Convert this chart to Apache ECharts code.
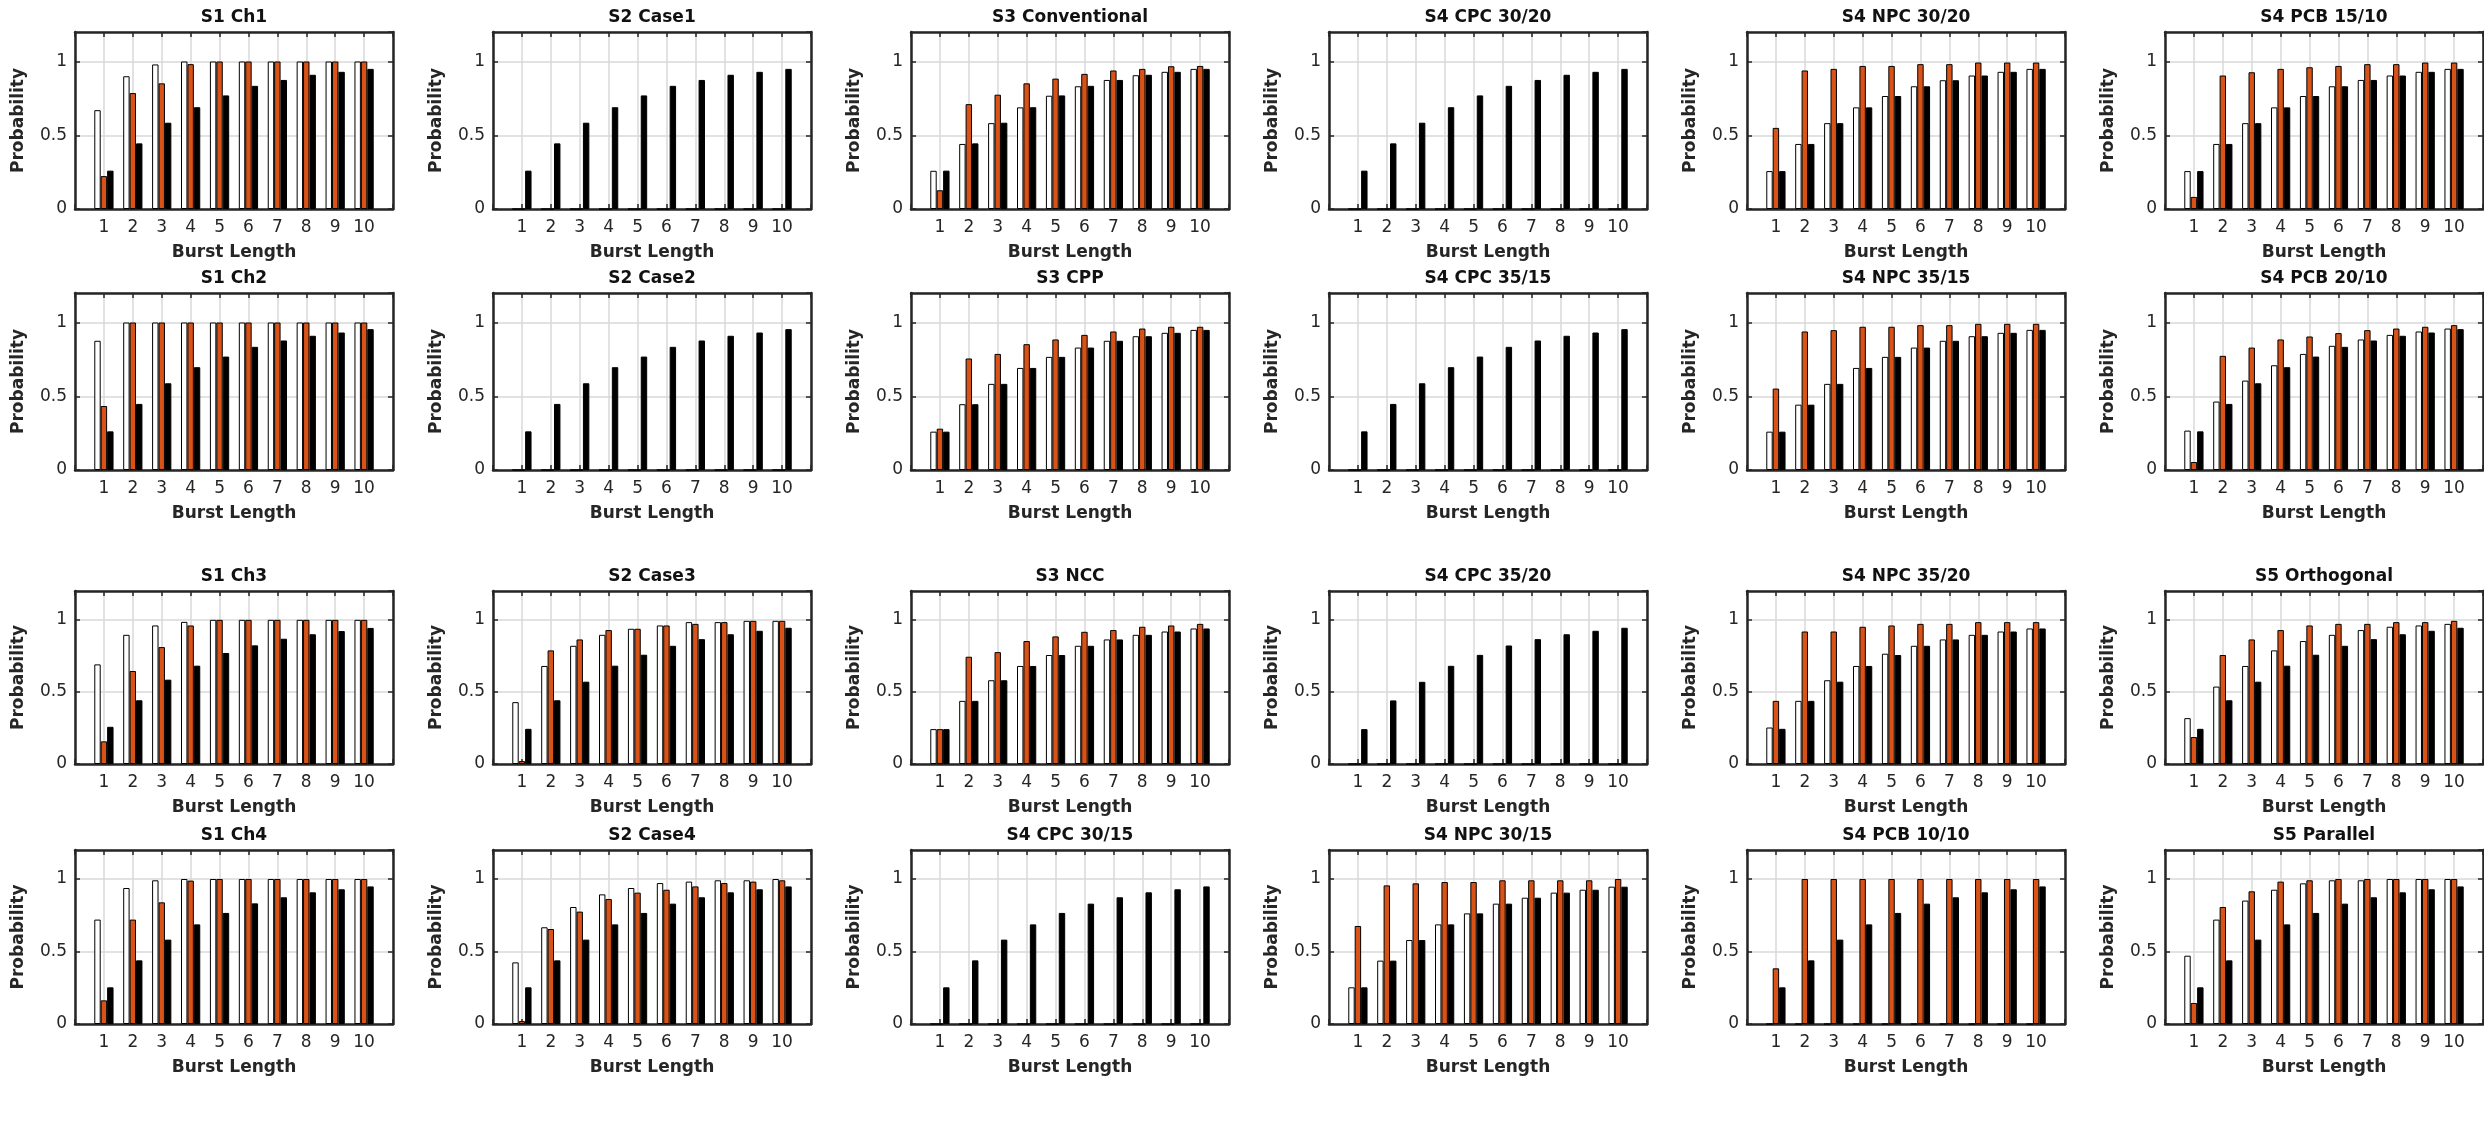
<!DOCTYPE html>
<html>
<head>
<meta charset="utf-8">
<title>Burst Length Probability</title>
<script src="https://cdn.jsdelivr.net/npm/echarts@6/dist/echarts.min.js"></script>
<style>
    html, body { margin: 0; padding: 0; background: #ffffff; }
    #chart { width: 2484px; height: 1124px; }
</style>
</head>
<body>
<div id="chart"></div>
<script>
    // x categories
    const burstLengths = [ 1, 2, 3, 4, 5, 6, 7, 8, 9, 10 ];

    // panel titles, row by row (4 rows x 6 columns)
    const panelTitles = [
        'S1 Ch1', 'S2 Case1', 'S3 Conventional', 'S4 CPC 30/20', 'S4 NPC 30/20', 'S4 PCB 15/10',
        'S1 Ch2', 'S2 Case2', 'S3 CPP', 'S4 CPC 35/15', 'S4 NPC 35/15', 'S4 PCB 20/10',
        'S1 Ch3', 'S2 Case3', 'S3 NCC', 'S4 CPC 35/20', 'S4 NPC 35/20', 'S5 Orthogonal',
        'S1 Ch4', 'S2 Case4', 'S4 CPC 30/15', 'S4 NPC 30/15', 'S4 PCB 10/10', 'S5 Parallel'
    ];

    // first bar of each group (white)
    const whiteBars = [
        [ 0.67, 0.9, 0.98, 1, 1, 1, 1, 1, 1, 1 ],                                  // S1 Ch1
        [ 0, 0, 0, 0, 0, 0, 0, 0, 0, 0 ],                                          // S2 Case1
        [ 0.259, 0.441, 0.582, 0.689, 0.768, 0.832, 0.875, 0.907, 0.93, 0.95 ],    // S3 Conventional
        [ 0, 0, 0, 0, 0, 0, 0, 0, 0, 0 ],                                          // S4 CPC 30/20
        [ 0.257, 0.441, 0.582, 0.689, 0.766, 0.832, 0.873, 0.905, 0.93, 0.95 ],    // S4 NPC 30/20
        [ 0.257, 0.441, 0.582, 0.689, 0.766, 0.832, 0.875, 0.905, 0.93, 0.95 ],    // S4 PCB 15/10
        [ 0.876, 1, 1, 1, 1, 1, 1, 1, 1, 1 ],                                      // S1 Ch2
        [ 0, 0, 0, 0, 0, 0, 0, 0, 0, 0 ],                                          // S2 Case2
        [ 0.26, 0.446, 0.584, 0.692, 0.767, 0.83, 0.876, 0.907, 0.93, 0.95 ],      // S3 CPP
        [ 0, 0, 0, 0, 0, 0, 0, 0, 0, 0 ],                                          // S4 CPC 35/15
        [ 0.26, 0.443, 0.584, 0.692, 0.767, 0.83, 0.876, 0.907, 0.93, 0.95 ],      // S4 NPC 35/15
        [ 0.267, 0.464, 0.606, 0.71, 0.787, 0.842, 0.885, 0.916, 0.939, 0.959 ],   // S4 PCB 20/10
        [ 0.691, 0.896, 0.961, 0.986, 1, 1, 1, 1, 1, 1 ],                          // S1 Ch3
        [ 0.429, 0.68, 0.82, 0.896, 0.938, 0.961, 0.984, 0.984, 0.993, 0.993 ],    // S2 Case3
        [ 0.242, 0.438, 0.581, 0.68, 0.756, 0.82, 0.864, 0.896, 0.919, 0.94 ],     // S3 NCC
        [ 0, 0, 0, 0, 0, 0, 0, 0, 0, 0 ],                                          // S4 CPC 35/20
        [ 0.253, 0.438, 0.581, 0.68, 0.765, 0.82, 0.864, 0.896, 0.919, 0.94 ],     // S4 NPC 35/20
        [ 0.318, 0.537, 0.68, 0.788, 0.853, 0.896, 0.929, 0.952, 0.961, 0.972 ],   // S5 Orthogonal
        [ 0.72, 0.938, 0.991, 1, 1, 1, 1, 1, 1, 1 ],                               // S1 Ch4
        [ 0.425, 0.667, 0.807, 0.894, 0.938, 0.972, 0.982, 0.991, 0.991, 1 ],      // S2 Case4
        [ 0, 0, 0, 0, 0, 0, 0, 0, 0, 0 ],                                          // S4 CPC 30/15
        [ 0.253, 0.437, 0.579, 0.687, 0.763, 0.83, 0.871, 0.906, 0.926, 0.947 ],   // S4 NPC 30/15
        [ 0, 0, 0, 0, 0, 0, 0, 0, 0, 0 ],                                          // S4 PCB 10/10
        [ 0.471, 0.72, 0.851, 0.926, 0.97, 0.991, 0.991, 1, 1, 1 ]                 // S5 Parallel
    ];

    // second bar (orange)
    const orangeBars = [
        [ 0.223, 0.786, 0.852, 0.982, 1, 1, 1, 1, 1, 1 ],
        [ 0, 0, 0, 0, 0, 0, 0, 0, 0, 0 ],
        [ 0.127, 0.711, 0.775, 0.852, 0.884, 0.916, 0.939, 0.95, 0.968, 0.97 ],
        [ 0, 0, 0, 0, 0, 0, 0, 0, 0, 0 ],
        [ 0.55, 0.939, 0.95, 0.97, 0.97, 0.982, 0.982, 0.993, 0.993, 0.993 ],
        [ 0.082, 0.905, 0.927, 0.95, 0.961, 0.97, 0.982, 0.982, 0.993, 0.993 ],
        [ 0.434, 1, 1, 1, 1, 1, 1, 1, 1, 1 ],
        [ 0, 0, 0, 0, 0, 0, 0, 0, 0, 0 ],
        [ 0.28, 0.756, 0.787, 0.853, 0.885, 0.916, 0.939, 0.959, 0.971, 0.971 ],
        [ 0, 0, 0, 0, 0, 0, 0, 0, 0, 0 ],
        [ 0.552, 0.939, 0.948, 0.971, 0.971, 0.982, 0.982, 0.991, 0.991, 0.991 ],
        [ 0.054, 0.774, 0.83, 0.885, 0.905, 0.928, 0.948, 0.959, 0.971, 0.982 ],
        [ 0.157, 0.645, 0.811, 0.961, 1, 1, 1, 1, 1, 1 ],
        [ 0.02, 0.788, 0.864, 0.929, 0.938, 0.961, 0.972, 0.984, 0.993, 0.993 ],
        [ 0.242, 0.744, 0.776, 0.853, 0.885, 0.917, 0.929, 0.952, 0.961, 0.972 ],
        [ 0, 0, 0, 0, 0, 0, 0, 0, 0, 0 ],
        [ 0.438, 0.919, 0.919, 0.952, 0.961, 0.972, 0.972, 0.984, 0.984, 0.984 ],
        [ 0.187, 0.756, 0.864, 0.929, 0.961, 0.972, 0.972, 0.984, 0.984, 0.993 ],
        [ 0.163, 0.72, 0.839, 0.989, 1, 1, 1, 1, 1, 1 ],
        [ 0.02, 0.655, 0.775, 0.862, 0.906, 0.926, 0.949, 0.972, 0.982, 0.991 ],
        [ 0, 0, 0, 0, 0, 0, 0, 0, 0, 0 ],
        [ 0.676, 0.956, 0.97, 0.979, 0.979, 0.991, 0.991, 0.991, 0.991, 1 ],
        [ 0.384, 1, 1, 1, 1, 1, 1, 1, 1, 1 ],
        [ 0.145, 0.807, 0.915, 0.982, 0.991, 1, 1, 1, 1, 1 ]
    ];

    // third bar (black)
    const blackBars = [
        [ 0.26, 0.445, 0.585, 0.69, 0.77, 0.835, 0.875, 0.91, 0.93, 0.95 ],
        [ 0.26, 0.445, 0.585, 0.69, 0.77, 0.835, 0.875, 0.91, 0.93, 0.95 ],
        [ 0.26, 0.445, 0.585, 0.69, 0.77, 0.835, 0.875, 0.91, 0.93, 0.95 ],
        [ 0.26, 0.445, 0.585, 0.69, 0.77, 0.835, 0.875, 0.91, 0.93, 0.95 ],
        [ 0.257, 0.441, 0.582, 0.689, 0.766, 0.832, 0.873, 0.905, 0.93, 0.95 ],
        [ 0.257, 0.441, 0.582, 0.689, 0.766, 0.832, 0.875, 0.905, 0.93, 0.95 ],
        [ 0.262, 0.448, 0.588, 0.697, 0.769, 0.835, 0.878, 0.91, 0.932, 0.955 ],
        [ 0.262, 0.448, 0.588, 0.697, 0.769, 0.835, 0.878, 0.91, 0.932, 0.955 ],
        [ 0.26, 0.446, 0.584, 0.692, 0.767, 0.83, 0.876, 0.907, 0.93, 0.95 ],
        [ 0.262, 0.448, 0.588, 0.697, 0.769, 0.835, 0.878, 0.91, 0.932, 0.955 ],
        [ 0.26, 0.443, 0.584, 0.692, 0.767, 0.83, 0.876, 0.907, 0.93, 0.95 ],
        [ 0.262, 0.448, 0.588, 0.697, 0.769, 0.835, 0.878, 0.91, 0.932, 0.955 ],
        [ 0.258, 0.442, 0.585, 0.682, 0.77, 0.823, 0.869, 0.9, 0.922, 0.944 ],
        [ 0.244, 0.442, 0.571, 0.682, 0.758, 0.82, 0.866, 0.9, 0.924, 0.945 ],
        [ 0.242, 0.438, 0.581, 0.68, 0.756, 0.82, 0.864, 0.896, 0.919, 0.94 ],
        [ 0.242, 0.441, 0.57, 0.681, 0.757, 0.822, 0.866, 0.9, 0.924, 0.945 ],
        [ 0.244, 0.438, 0.571, 0.68, 0.756, 0.82, 0.864, 0.896, 0.919, 0.94 ],
        [ 0.244, 0.442, 0.571, 0.682, 0.758, 0.82, 0.866, 0.9, 0.924, 0.945 ],
        [ 0.253, 0.439, 0.582, 0.687, 0.766, 0.832, 0.874, 0.908, 0.929, 0.949 ],
        [ 0.253, 0.439, 0.582, 0.687, 0.766, 0.83, 0.874, 0.908, 0.929, 0.949 ],
        [ 0.253, 0.439, 0.582, 0.687, 0.766, 0.83, 0.874, 0.908, 0.929, 0.949 ],
        [ 0.253, 0.437, 0.579, 0.687, 0.763, 0.83, 0.871, 0.906, 0.926, 0.947 ],
        [ 0.253, 0.439, 0.582, 0.687, 0.766, 0.83, 0.874, 0.908, 0.929, 0.949 ],
        [ 0.253, 0.439, 0.582, 0.687, 0.766, 0.83, 0.874, 0.908, 0.929, 0.949 ]
    ];

    const seriesColors = [ '#ffffff', '#d95319', '#000000' ];

    // panel layout (px)
    const colLeft = [ 75, 493, 911, 1329, 1747, 2165 ];
    const rowTop = [ 32, 293, 591, 850 ];
    const rowHeight = [ 177, 177, 173, 174 ];
    const plotWidth = 318;

    const FONT = '"DejaVu Sans", sans-serif';
    const AXIS_COLOR = '#262626';
    const GRID_COLOR = '#d9d9d9';

    // axis runs 0..11 so that bursts 1..10 sit one unit in from each edge
    const axisCats = [ 0 ].concat( burstLengths, [ 11 ] ).map( String );

    const chart = echarts.init( document.getElementById( 'chart' ) );

    let grids = [], xAxes = [], yAxes = [], series = [], titles = [];

    panelTitles.forEach( function( name, i ) {
        const r = Math.floor( i / 6 ), c = i % 6;
        const lineStyle = { color: AXIS_COLOR, width: 2.5 };
        const tickStyle = { color: AXIS_COLOR, width: 1.5 };

        grids.push( {
            left: colLeft[ c ], top: rowTop[ r ], width: plotWidth, height: rowHeight[ r ],
            containLabel: false, outerBoundsMode: 'none'
        } );

        titles.push( {
            text: name,
            left: colLeft[ c ] + plotWidth / 2,
            top: rowTop[ r ] - 23,
            textAlign: 'center',
            padding: 0,
            textStyle: { fontFamily: FONT, fontSize: 17, fontWeight: 'bold', color: '#111111' }
        } );

        // bottom axis with labels and grid lines
        xAxes.push( {
            type: 'category', gridIndex: i, data: axisCats, boundaryGap: false, position: 'bottom',
            name: 'Burst Length', nameLocation: 'middle', nameGap: 35,
            nameTextStyle: { fontFamily: FONT, fontSize: 17, fontWeight: 'bold', color: AXIS_COLOR },
            axisLine: { onZero: false, lineStyle: lineStyle },
            axisTick: { inside: true, length: 5, interval: 0, lineStyle: tickStyle },
            axisLabel: {
                interval: 0, margin: 10, fontFamily: FONT, fontSize: 17, color: AXIS_COLOR,
                formatter: function( v ) { return ( v === '0' || v === '11' ) ? '' : v; }
            },
            splitLine: { show: true, interval: 0, lineStyle: { color: GRID_COLOR, width: 1.5 } }
        } );
        // top border with inward ticks
        xAxes.push( {
            type: 'category', gridIndex: i, data: axisCats, boundaryGap: false, position: 'top',
            axisLine: { onZero: false, lineStyle: lineStyle },
            axisTick: { inside: true, length: 5, interval: 0, lineStyle: tickStyle },
            axisLabel: { show: false },
            splitLine: { show: false }
        } );

        yAxes.push( {
            type: 'value', gridIndex: i, min: 0, max: 1.2, interval: 0.5, position: 'left',
            name: 'Probability', nameLocation: 'middle', nameGap: 48,
            nameTextStyle: { fontFamily: FONT, fontSize: 17, fontWeight: 'bold', color: AXIS_COLOR },
            axisLine: { show: true, onZero: false, lineStyle: lineStyle },
            axisTick: { show: true, inside: true, length: 5, lineStyle: tickStyle },
            axisLabel: {
                margin: 8, fontFamily: FONT, fontSize: 17, color: AXIS_COLOR, showMaxLabel: false,
                formatter: function( v ) { return v > 1.1 ? '' : String( v ); }
            },
            splitLine: { show: true, lineStyle: { color: GRID_COLOR, width: 1.5 } }
        } );
        // right border with inward ticks
        yAxes.push( {
            type: 'value', gridIndex: i, min: 0, max: 1.2, interval: 0.5, position: 'right',
            axisLine: { show: true, onZero: false, lineStyle: lineStyle },
            axisTick: { show: true, inside: true, length: 5, lineStyle: tickStyle },
            axisLabel: { show: false },
            splitLine: { show: false }
        } );

        [ whiteBars[ i ], orangeBars[ i ], blackBars[ i ] ].forEach( function( vals, k ) {
            series.push( {
                type: 'bar',
                xAxisIndex: 2 * i,
                yAxisIndex: 2 * i,
                data: [ null ].concat( vals, [ null ] ),
                barWidth: '22.2%',
                barGap: '0%',
                silent: true,
                itemStyle: { color: seriesColors[ k ], borderColor: '#000000', borderWidth: 1 }
            } );
        } );
    } );

    chart.setOption( {
        backgroundColor: '#ffffff',
        animation: false,
        title: titles,
        grid: grids,
        xAxis: xAxes,
        yAxis: yAxes,
        series: series
    } );
</script>
</body>
</html>
